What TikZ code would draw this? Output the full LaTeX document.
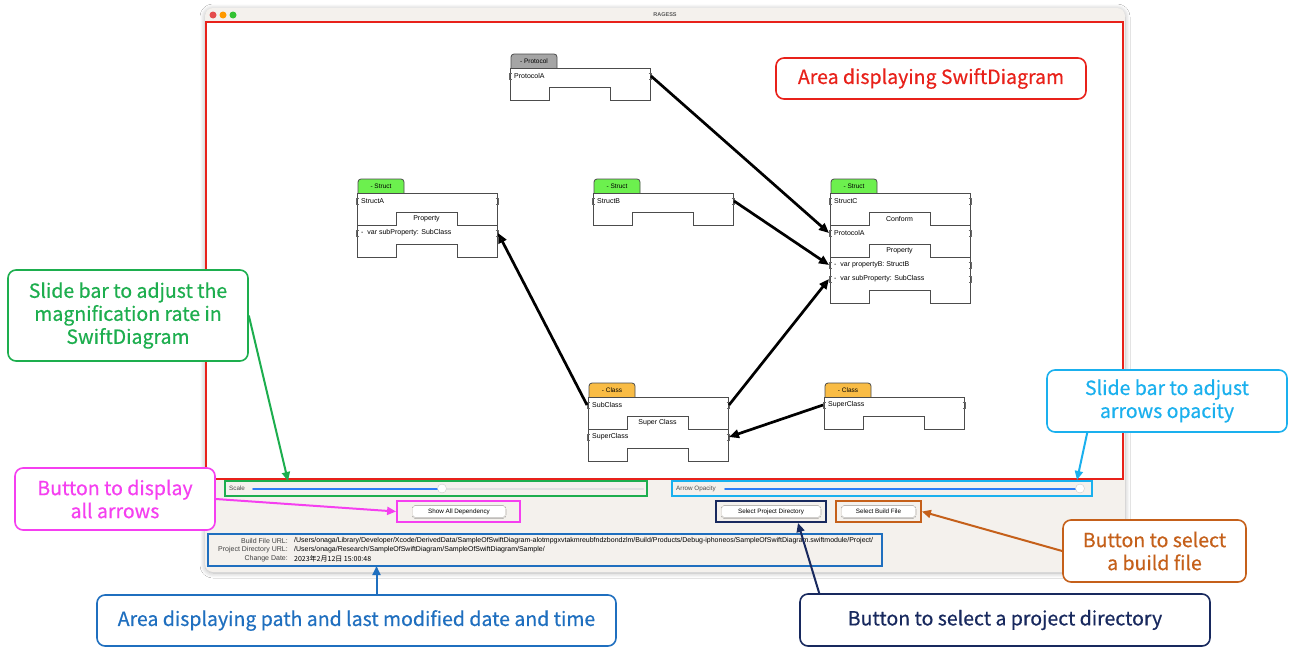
\documentclass[tikz,border=0pt]{standalone}
\usepackage{fontspec}
\setmainfont{Liberation Sans}
\newfontfamily\calloutfont{Noto Sans CJK JP}[FakeBold=0.5]
\newfontfamily\cjk{Noto Sans CJK JP}
\usetikzlibrary{positioning,arrows.meta,shadows.blur}

\definecolor{callred}{HTML}{E8211A}
\definecolor{callgreen}{HTML}{1DAE4E}
\definecolor{callcyan}{HTML}{1AB0EE}
\definecolor{callmagenta}{HTML}{F53FF0}
\definecolor{callorange}{HTML}{C5601A}
\definecolor{callblue}{HTML}{1F6FBF}
\definecolor{callnavy}{HTML}{18295E}
\definecolor{tabgreen}{HTML}{6CF04E}
\definecolor{taborange}{HTML}{F9BC45}
\definecolor{tabgray}{HTML}{A5A5A5}
\definecolor{winbg}{HTML}{F4F1ED}
\definecolor{slideblue}{HTML}{2F7DF6}

\tikzset{
        apptext/.style={inner sep=0pt, font=\fontsize{7}{8}\selectfont},
        % Callout boxes
        callout/.style={draw, rounded corners=8pt, line width=1.6pt, fill=white, align=center, inner sep=0pt,
                font=\calloutfont\fontsize{19.5}{23}\selectfont},
        % Highlight frames
        hlframe/.style={draw, line width=1.8pt, inner sep=0pt},
        % Pointer arrows of the callouts
        pointer/.style={line width=2pt, -{Triangle[length=9pt,width=8pt]}},
        % Dependency arrows
        dep/.style={line width=2.7pt, -{Triangle[length=10pt,width=8.5pt]}},
        % Block outlines
        blockline/.style={draw=black!70, line width=0.8pt},
        portline/.style={draw=black!60, line width=0.5pt},
        tabtext/.style={apptext, font=\fontsize{6.5}{7}\selectfont},
        % Buttons and slider knobs
        appbutton/.style={apptext, fill=white, rounded corners=2.5pt, minimum height=11pt, font=\fontsize{6.3}{7}\selectfont,
                blur shadow={shadow blur steps=3, shadow xshift=0pt, shadow yshift=-0.5pt, shadow opacity=25, shadow blur radius=1pt}},
        knob/.style={circle, fill=white, draw=black!20, minimum size=9pt, inner sep=0pt}
}

% tab on top of a block: name, x, top, colour, text
\newcommand{\blocktab}[5]{
        \draw[blockline, fill=#4, rounded corners=3pt] (#2+1,#3) -- (#2+1,#3-14) -- (#2+47,#3-14) -- (#2+47,#3);
        \node[tabtext] (#1) at (#2+24,#3-7) {#5};
}
% outline of a block: x, top, bottom
\newcommand{\blockbody}[3]{
        \draw[blockline, fill=white] (#1,#2) -- (#1+140,#2) -- (#1+140,#3) -- ++(-40,0) -- ++(0,-13)
                -- ++(-61,0) -- ++(0,13) -- (#1,#3) -- cycle;
}
% separator with its header: name, x, y, label
\newcommand{\blocksep}[4]{
        \draw[blockline] (#2,#3) -- ++(39,0) -- ++(0,-13) -- ++(61,0) -- ++(0,13) -- ++(40,0);
        \node[apptext] (#1) at (#2+69.5,#3-6.5) {#4};
}
% text row with its two ports: name, x, y, text
\newcommand{\blockrow}[4]{
        \node[apptext, anchor=west] (#1) at (#2+4,#3) {#4};
        \draw[portline] (#2+1.5,#3-3) -- (#2-1,#3-3) -- (#2-1,#3+3) -- (#2+1.5,#3+3);
        \draw[portline] (#2+138.5,#3-3) -- (#2+141,#3-3) -- (#2+141,#3+3) -- (#2+138.5,#3+3);
        \coordinate (#1-L) at (#2-1,#3);
        \coordinate (#1-R) at (#2+141,#3);
}

\begin{document}
\begin{tikzpicture}[x=1pt, y=-1pt]
        \useasboundingbox[fill=white] (0,0) rectangle (1300,648);

        % window
        \path[fill=winbg, rounded corners=8pt,
                blur shadow={shadow blur steps=8, shadow xshift=0pt, shadow yshift=-1pt, shadow opacity=30, shadow blur radius=5pt}]
                (205,8) rectangle (1125,572);
        \fill[red!85!black!70!white] (213,15) circle (3.5);
        \fill[orange!80!yellow] (223,15) circle (3.5);
        \fill[green!70!black!80!white] (233,15) circle (3.5);
        \node[apptext, font=\fontsize{5.5}{6}\selectfont\bfseries, text=black!65] (title) at (665,15) {RAGESS};

        % diagram area
        \node[hlframe, draw=callred, fill=white, minimum width=917pt, minimum height=457pt] (diagramArea) at (664.5,250.5) {};

        % ProtocolA
        \blocktab{protocolA-tab}{510}{68}{tabgray}{- Protocol}
        \blockbody{510}{68}{100}
        \blockrow{protocolA}{510}{76}{ProtocolA}

        % StructA
        \blocktab{structA-tab}{357}{193}{tabgreen}{- Struct}
        \blockbody{357}{193}{257}
        \blockrow{structA}{357}{201}{StructA}
        \blocksep{structA-prop}{357}{225}{Property}
        \blockrow{structA-sub}{357}{233}{-\ \ var subProperty: SubClass}

        % StructB
        \blocktab{structB-tab}{593}{193}{tabgreen}{- Struct}
        \blockbody{593}{193}{225}
        \blockrow{structB}{593}{201}{StructB}

        % StructC
        \blocktab{structC-tab}{830}{193}{tabgreen}{- Struct}
        \blockbody{830}{193}{303}
        \blockrow{structC}{830}{201}{StructC}
        \blocksep{structC-conf}{830}{225}{Conform}
        \blockrow{structC-proto}{830}{233}{ProtocolA}
        \blocksep{structC-prop}{830}{257}{Property}
        \blockrow{structC-b}{830}{265}{-\ \ var propertyB: StructB}
        \blockrow{structC-sub}{830}{279}{-\ \ var subProperty: SubClass}

        % SubClass
        \blocktab{subClass-tab}{588}{397}{taborange}{- Class}
        \blockbody{588}{397}{461}
        \blockrow{subClass}{588}{405}{SubClass}
        \blocksep{subClass-super}{588}{429}{Super Class}
        \blockrow{subClass-sup}{588}{437}{SuperClass}

        % SuperClass
        \blocktab{superClass-tab}{824}{397}{taborange}{- Class}
        \blockbody{824}{397}{429}
        \blockrow{superClass}{824}{405}{SuperClass}

        % dependencies
        \draw[dep] (protocolA-R) -- (structC-proto-L);
        \draw[dep] (structB-R) -- (structC-b-L);
        \draw[dep] (subClass-R) -- (structC-sub-L);
        \draw[dep] (subClass-L) -- (structA-sub-R);
        \draw[dep] (superClass-L) -- (subClass-sup-R);

        % sliders
        \node[hlframe, draw=callgreen, minimum width=422pt, minimum height=15pt] (scaleBox) at (436,488.5) {};
        \node[apptext, anchor=west, text=black!70, font=\fontsize{6.3}{7}\selectfont] (scaleLabel) at (229,488.5) {Scale};
        \draw[slideblue, line width=2pt, line cap=round] (253,488.5) -- (440,488.5);
        \draw[black!12, line width=2pt, line cap=round] (445,488.5) -- (643,488.5);
        \node[knob] (scaleKnob) at (442,488.5) {};

        \node[hlframe, draw=callcyan, minimum width=420pt, minimum height=15pt] (opacityBox) at (882,488.5) {};
        \node[apptext, anchor=west, text=black!70, font=\fontsize{6.3}{7}\selectfont] (opacityLabel) at (676,488.5) {Arrow Opacity};
        \draw[slideblue, line width=2pt, line cap=round] (725,488.5) -- (1077,488.5);
        \node[knob] (opacityKnob) at (1080,488.5) {};

        % buttons
        \node[hlframe, draw=callmagenta, minimum width=123pt, minimum height=21pt] (allBox) at (458.5,511.5) {};
        \node[appbutton, minimum width=92pt] (allButton) at (459,511.5) {Show All Dependency};
        \node[hlframe, draw=callnavy, minimum width=110pt, minimum height=21pt] (dirBox) at (771,511.5) {};
        \node[appbutton, minimum width=98pt] (dirButton) at (771,511.5) {Select Project Directory};
        \node[hlframe, draw=callorange, minimum width=85pt, minimum height=21pt] (buildBox) at (878.5,511.5) {};
        \node[appbutton, minimum width=73pt] (buildButton) at (878.5,511.5) {Select Build File};

        % paths and date
        \node[hlframe, draw=callblue, minimum width=674pt, minimum height=32pt] (pathBox) at (545,550) {};
        \node[apptext, anchor=east, text=black!75] (buildLabel) at (288,541) {Build File URL:};
        \node[apptext, anchor=west] (buildPath) at (294,541)
                {/Users/onaga/Library/Developer/Xcode/DerivedData/SampleOfSwiftDiagram-alotmpgxvtakmreubfndzbondzlm/Build/Products/Debug-iphoneos/SampleOfSwiftDiagram.swiftmodule/Project/};
        \node[apptext, anchor=east, text=black!75] (dirLabel) at (288,550) {Project Directory URL:};
        \node[apptext, anchor=west] (dirPath) at (294,550) {/Users/onaga/Research/SampleOfSwiftDiagram/SampleOfSwiftDiagram/Sample/};
        \node[apptext, anchor=east, text=black!75] (dateLabel) at (288,559) {Change Date:};
        \node[apptext, anchor=west] (dateValue) at (294,559) {\cjk 2023年2月12日 15:00:48};

        % callouts
        \node[callout, draw=callred, text=callred, minimum width=310pt, minimum height=41pt] (areaCall) at (931,78.5)
                {Area displaying SwiftDiagram};
        \node[callout, draw=callgreen, text=callgreen, minimum width=240pt, minimum height=91pt] (scaleCall) at (128,315.5)
                {Slide bar to adjust the\\magnification rate in\\SwiftDiagram};
        \node[callout, draw=callcyan, text=callcyan, minimum width=240pt, minimum height=62pt] (opacityCall) at (1167,401)
                {Slide bar to adjust\\arrows opacity};
        \node[callout, draw=callmagenta, text=callmagenta, minimum width=200pt, minimum height=62pt] (allCall) at (115,499)
                {Button to display\\all arrows};
        \node[callout, draw=callorange, text=callorange, minimum width=183pt, minimum height=62pt] (buildCall) at (1154.5,551)
                {Button to select\\a build file};
        \node[callout, draw=callblue, text=callblue, minimum width=519pt, minimum height=51pt] (pathCall) at (356.5,620.5)
                {Area displaying path and last modified date and time};
        \node[callout, draw=callnavy, text=callnavy, minimum width=410pt, minimum height=52pt] (dirCall) at (1005,620)
                {Button to select a project directory};

        \coordinate (scaleTip) at (288,481);
        \coordinate (opacityTip) at (1077,480);
        \coordinate (dirTip) at (798,523);
        \coordinate (pathTip) at (376.5,566);
        \draw[pointer, callgreen] (scaleCall.east) -- (scaleTip);
        \draw[pointer, callcyan] ([xshift=41pt]opacityCall.south west) -- (opacityTip);
        \draw[pointer, callmagenta] (allCall.east) -- (allBox.west);
        \draw[pointer, callorange] (buildCall.west) -- (buildBox.east);
        \draw[pointer, callnavy] ([xshift=20pt]dirCall.north west) -- (dirTip);
        \draw[pointer, callblue] ([xshift=20pt]pathCall.north) -- (pathTip);
\end{tikzpicture}
\end{document}
